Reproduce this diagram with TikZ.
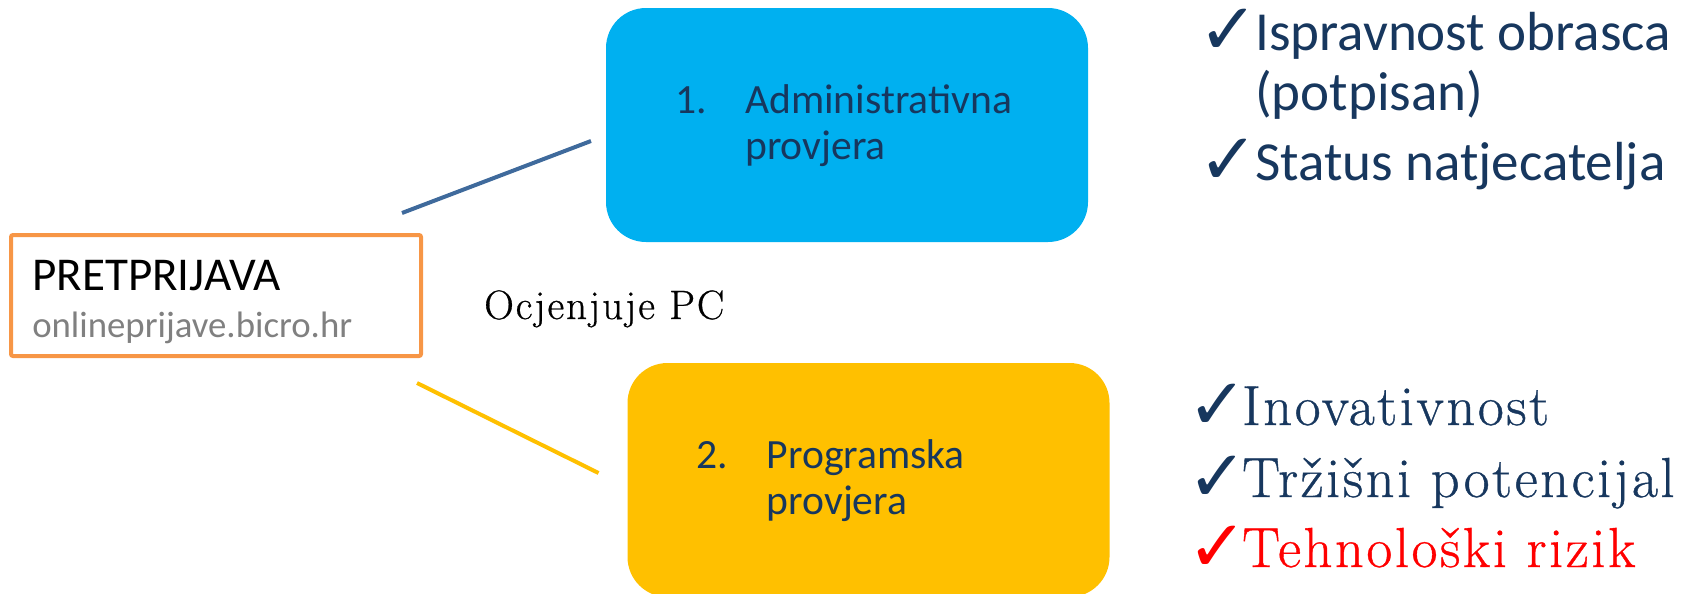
\documentclass[tikz,border=0pt]{standalone}
\usepackage{fontspec}
\setmainfont{Latin Modern Roman}[LetterSpace=4.6, FakeBold=0.7]
\setsansfont{Carlito}
\newfontfamily\checkfont{DejaVu Sans}
\usetikzlibrary{positioning}
\definecolor{adminblue}{HTML}{00B0F0}
\definecolor{progyellow}{HTML}{FFC000}
\definecolor{preorange}{HTML}{F79646}
\definecolor{linkblue}{HTML}{3F6A9C}
\definecolor{navy}{HTML}{17375E}
\definecolor{urlgray}{HTML}{808080}
\definecolor{riskred}{HTML}{FF0000}
\newcommand\tickbox[1]{\makebox[#1][l]{\hspace{-7.5pt}\raisebox{-3pt}{\checkfont\bfseries\fontsize{54}{54}\selectfont ✓}}}
\newcommand\steplines[3]{\begin{tabular}[t]{@{}p{52.5pt}@{}l@{}}#1 & #2\\ & #3\end{tabular}}

\begin{document}
\begin{tikzpicture}[
  x=0.75pt, y=-0.75pt,
  stepbox/.style={rectangle, rounded corners=30pt, minimum width=361.5pt,
                  minimum height=175.5pt, inner sep=0pt, outer sep=0pt},
  steptext/.style={anchor=base west, inner sep=0pt, text=navy,
                   font=\sffamily\fontsize{31.2}{34.5}\selectfont},
  link/.style={line width=3pt},
  okline/.style={anchor=base west, inner sep=0pt, text=navy,
                 font=\sffamily\fontsize{41.3}{49}\selectfont},
  okserif/.style={anchor=base west, inner sep=0pt, text=navy,
                  font=\rmfamily\fontsize{42.3}{50}\selectfont}
]
\path[use as bounding box, clip] (0,0) rectangle (1685,593);
\node (pre) [rectangle, draw=preorange, line width=3pt, rounded corners=1.5pt,
  minimum width=307.5pt, minimum height=90.75pt, outer sep=0pt] at (216,295.5) {};
\node (pretitle) [anchor=base west, inner sep=0pt,
  font=\sffamily\fontsize{35.3}{41}\selectfont]
  at ([shift={(21,55)}]pre.north west) {PRETPRIJAVA};
\node (preurl) [anchor=base west, inner sep=0pt, text=urlgray,
  font=\sffamily\fontsize{27.6}{33}\selectfont]
  at ([shift={(21,102)}]pre.north west) {onlineprijave.bicro.hr};
\node (admin) [stepbox, fill=adminblue] at (847,125) {};
\node (prog) [stepbox, fill=progyellow] at (868.5,480) {};
\node (admintxt) [steptext] at ([shift={(69,105)}]admin.north west)
  {\steplines{1.}{Administrativna}{provjera}};
\node (progtxt) [steptext] at ([shift={(69,105)}]prog.north west)
  {\steplines{2.}{Programska}{provjera}};
\node (rater) [anchor=base west, inner sep=0pt,
  font=\rmfamily\fontsize{30.8}{36}\selectfont] at (484,319) {Ocjenjuje PC};
\draw[link, linkblue] ([shift={(-19,-22)}]pre.north east)
  -- ([shift={(-15,16)}]admin.west);
\draw[link, progyellow] ([shift={(-4,27)}]pre.south east)
  -- ([shift={(-29,-7)}]prog.west);
\node (ok1) [okline] at (1208,50) {\tickbox{35.25pt}Ispravnost obrasca};
\node (ok1b) [okline] at (1208,110) {\hspace{35.25pt}(potpisan)};
\node (ok2) [okline] at (1208,180) {\tickbox{35.25pt}Status natjecatelja};
\node (crit1) [okserif] at (1197,425) {\tickbox{33.75pt}Inovativnost};
\node (crit2) [okserif] at (1197,497) {\tickbox{33.75pt}Tržišni potencijal};
\node (crit3) [okserif, text=riskred] at (1197,567)
  {\tickbox{33.75pt}Tehnološki rizik};
\end{tikzpicture}
\end{document}
